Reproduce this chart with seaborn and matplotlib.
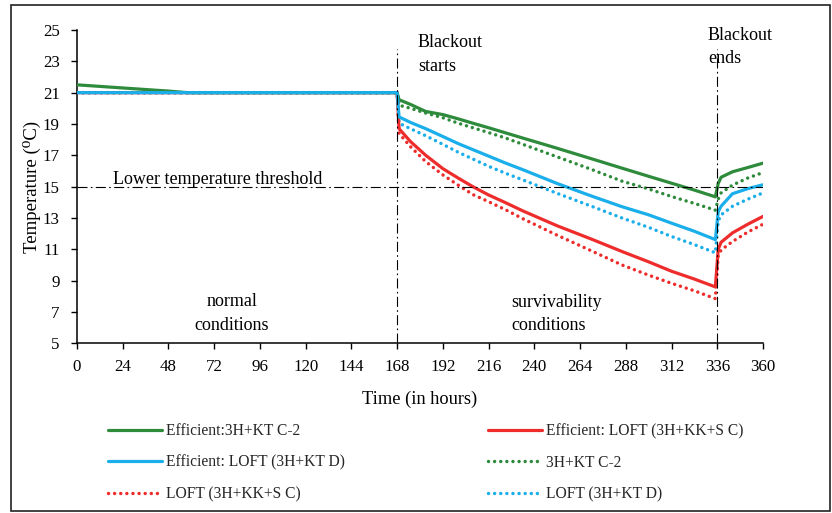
import numpy as np
import pandas as pd
import matplotlib
matplotlib.use("Agg")
import matplotlib.pyplot as plt
from matplotlib.patches import Rectangle
import seaborn as sns

sns.set_style("ticks")
plt.rcParams['font.family'] = ['Liberation Serif', 'DejaVu Serif']

# ---- data ----
hours = [0, 24, 48, 58, 72, 96, 120, 144, 168, 169, 175, 183, 192, 200, 208, 216,
         225, 234, 252, 270, 286, 300, 312, 324, 335, 336.5, 338, 344, 352, 360]

eff_c2 = [21.5, 21.3, 21.1, 21.0, 21, 21, 21, 21, 21, 20.55, 20.25, 19.8, 19.6, 19.33,
          19.04, 18.76, 18.43, 18.1, 17.45, 16.78, 16.18, 15.66, 15.22, 14.78, 14.35,
          15.2, 15.6, 15.95, 16.22, 16.5]
eff_kks = [21, 21, 21, 21, 21, 21, 21, 21, 21, 18.7, 17.88, 17.0, 16.15, 15.55, 14.98,
           14.47, 13.97, 13.45, 12.5, 11.65, 10.86, 10.2, 9.6, 9.1, 8.6,
           11.0, 11.45, 12.05, 12.6, 13.1]
eff_ktd = [21, 21, 21, 21, 21, 21, 21, 21, 21, 19.45, 19.1, 18.7, 18.2, 17.75, 17.35,
           16.95, 16.5, 16.08, 15.2, 14.4, 13.72, 13.2, 12.67, 12.15, 11.62,
           13.4, 13.75, 14.55, 14.87, 15.12]
base_c2 = [21, 21, 21, 21, 21, 21, 21, 21, 21, 20.2, 20.0, 19.7, 19.4, 19.05, 18.75,
           18.45, 18.1, 17.7, 16.9, 16.1, 15.35, 14.85, 14.37, 13.93, 13.5,
           14.2, 14.6, 15.1, 15.55, 15.9]
base_kks = [21, 21, 21, 21, 21, 21, 21, 21, 21, 18.4, 17.55, 16.6, 15.75, 15.1, 14.48,
            14.04, 13.52, 12.95, 11.9, 10.9, 10.0, 9.35, 8.83, 8.35, 7.85,
            10.6, 10.95, 11.5, 12.1, 12.6]
base_ktd = [21, 21, 21, 21, 21, 21, 21, 21, 21, 19.05, 18.7, 18.25, 17.7, 17.2, 16.75,
            16.3, 15.85, 15.43, 14.57, 13.75, 13.0, 12.4, 11.82, 11.3, 10.78,
            12.8, 13.2, 13.75, 14.2, 14.6]

labels = ["Efficient:3H+KT C-2", "Efficient: LOFT (3H+KK+S C)", "Efficient: LOFT (3H+KT D)",
          "3H+KT C-2", "LOFT (3H+KK+S C)", "LOFT (3H+KT D)"]
x_ticks = list(range(0, 361, 24))
y_ticks = list(range(5, 26, 2))
threshold = 15
blackout_start, blackout_end = 168, 336

GREEN, RED, BLUE = "#2e8b3c", "#ee2c2c", "#1aaeea"

W, H = 832, 513
fig = plt.figure(figsize=(W / 100, H / 100), dpi=100)
ax = fig.add_axes([77 / W, 1 - 343.3 / H, (763 - 77) / W, (343.3 - 30) / H])

dot = (0, (0.01, 1.75))
series = [
    (base_c2, labels[3], GREEN, dot, 2.5, 2),
    (base_kks, labels[4], RED, dot, 2.5, 2),
    (base_ktd, labels[5], BLUE, dot, 2.5, 2),
    (eff_kks, labels[1], RED, '-', 2.3, 3),
    (eff_c2, labels[0], GREEN, '-', 2.3, 3),
    (eff_ktd, labels[2], BLUE, '-', 2.3, 4),
]
handles = {}
for vals, lab, col, ls, lw, z in series:
    df = pd.DataFrame({"Time": hours, "Temp": vals})
    sns.lineplot(data=df, x="Time", y="Temp", ax=ax, color=col, linestyle=ls,
                 linewidth=lw, estimator=None, sort=False, label=lab, zorder=z,
                 dash_capstyle='round')
for ln in ax.get_lines():
    handles[ln.get_label()] = ln
if ax.get_legend() is not None:
    ax.get_legend().remove()

dashdot = (0, (9, 3, 1.5, 3))
ax.axhline(threshold, color='black', lw=0.8, ls=dashdot, zorder=5)
for xv in (blackout_start, blackout_end):
    ax.plot([xv, xv], [5, 23.8], color='black', lw=0.8, ls=dashdot, zorder=5)

ax.set_xlim(0, 360)
ax.set_ylim(5, 25)
ax.set_xticks(x_ticks)
ax.set_yticks(y_ticks)
ax.tick_params(axis='both', direction='out', length=4, width=1, color='black',
               labelsize=12.2, labelcolor='black')
ax.tick_params(axis='y', pad=8.5)
ax.tick_params(axis='x', pad=7)
for s in ['top', 'right']:
    ax.spines[s].set_visible(False)
for s in ['left', 'bottom']:
    ax.spines[s].set_color('black')
    ax.spines[s].set_linewidth(1.1)
ax.set_xlabel("Time (in hours)", fontsize=13.2, labelpad=11.5, color='black')
ax.set_ylabel("Temperature (\u2070C)", fontsize=13.5, labelpad=1.5, color='black')
ax.grid(False)

tk = dict(fontsize=13, color='black', linespacing=1.5)
ax.text(178.9, 23.45, "Blackout\nstarts", ha='left', va='center', **tk)
ax.text(331.1, 23.93, "Blackout\nends", ha='left', va='center', clip_on=False, **tk)
ax.text(19, 15.45, "Lower temperature threshold", ha='left', va='center', **tk)
ax.text(81.3, 6.9, "normal\nconditions", ha='center', va='center', multialignment='center', **tk)
ax.text(227.7, 6.87, "survivability\nconditions", ha='left', va='center', **tk)

col1 = [labels[0], labels[2], labels[4]]
col2 = [labels[1], labels[3], labels[5]]
lkw = dict(loc='upper left', frameon=False, fontsize=11.2, handlelength=3.5,
           handletextpad=0.25, labelspacing=1.0, borderpad=0, borderaxespad=0)
fig.legend([handles[l] for l in col1], col1, bbox_to_anchor=(108 / W, 1 - 423 / H), **lkw)
fig.legend([handles[l] for l in col2], col2, bbox_to_anchor=(488 / W, 1 - 423 / H), **lkw)

fig.add_artist(Rectangle((11 / W, 2 / H), (830 - 11) / W, (511 - 5) / H,
                         transform=fig.transFigure, fill=False, edgecolor='#222222', lw=1.2))

fig.savefig("out.png", dpi=100)
